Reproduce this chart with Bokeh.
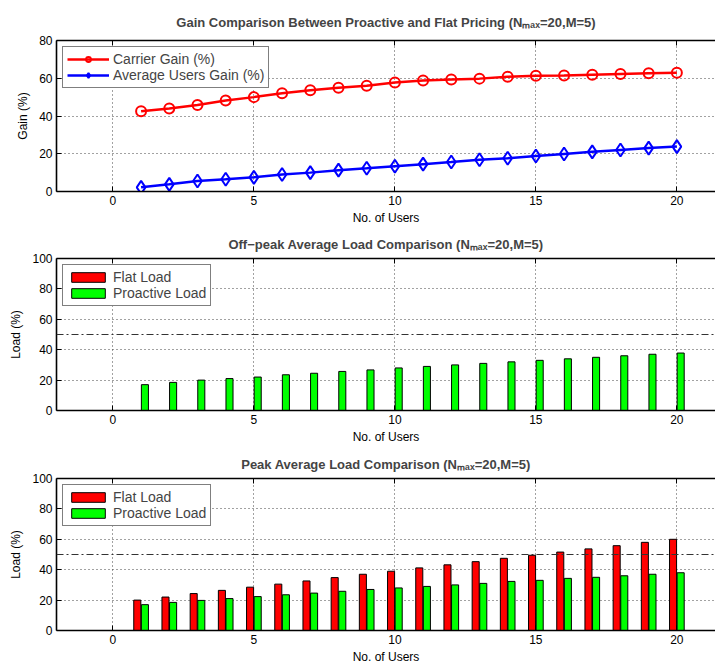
from bokeh.plotting import figure
from bokeh.models import Range1d, LinearAxis, Span, FixedTicker
from bokeh.layouts import column
from bokeh.transform import dodge
from bokeh.embed import file_html
from bokeh.resources import INLINE

# ---- data ----
users = [1, 2, 3, 4, 5, 6, 7, 8, 9, 10, 11, 12, 13, 14, 15, 16, 17, 18, 19, 20]
carrier_gain = [42.5, 44.0, 45.8, 48.2, 50.0, 52.0, 53.7, 55.0, 56.0, 57.7,
                58.8, 59.4, 59.8, 60.8, 61.3, 61.5, 61.9, 62.3, 62.6, 62.9]
users_gain = [2.2, 3.8, 5.6, 6.5, 7.5, 9.0, 10.0, 11.3, 12.3, 13.4,
              14.5, 15.6, 16.8, 17.6, 18.8, 19.9, 21.0, 22.0, 23.0, 23.8]
offpeak_flat = [0, 0, 0, 0, 0, 0, 0, 0, 0, 0, 0, 0, 0, 0, 0, 0, 0, 0, 0, 0]
offpeak_proactive = [17.0, 18.5, 20.0, 21.0, 22.0, 23.5, 24.5, 25.7, 26.7, 28.0,
                     29.0, 30.0, 31.0, 32.0, 33.0, 34.0, 35.0, 36.0, 37.0, 37.8]
peak_flat = [20.0, 22.0, 24.3, 26.4, 28.5, 30.5, 32.6, 34.8, 37.0, 39.0,
             41.2, 43.2, 45.3, 47.5, 49.5, 51.6, 53.7, 55.8, 58.0, 60.0]
peak_proactive = [17.0, 18.5, 19.8, 21.0, 22.3, 23.5, 24.6, 25.8, 27.0, 28.0,
                  29.0, 30.0, 31.0, 32.3, 33.0, 34.3, 35.0, 36.0, 37.0, 38.0]
x_ticks = [0, 5, 10, 15, 20]
threshold = 50

FONT = "Liberation Sans"


def make_fig(height, top, bottom, ymax, ystep, title, ylabel, title_standoff):
    p = figure(width=715, height=height, output_backend="svg", toolbar_location=None,
               x_range=Range1d(-2, 21.37), y_range=Range1d(0, ymax),
               min_border_left=56, min_border_right=0,
               min_border_top=top, min_border_bottom=bottom, title=title)
    p.outline_line_color = None
    p.background_fill_color = "white"
    p.border_fill_color = "white"
    t = p.title
    t.text_font = FONT
    t.text_font_style = "bold"
    t.text_font_size = "13px"
    t.align = "center"
    t.offset = 8
    t.standoff = title_standoff
    yt = FixedTicker(ticks=list(range(0, ymax + 1, ystep)))
    xt = FixedTicker(ticks=x_ticks)
    p.xaxis.ticker = xt
    p.yaxis.ticker = yt
    for ax in (p.xaxis[0], p.yaxis[0]):
        ax.major_tick_in = 5
        ax.major_tick_out = 0
        ax.minor_tick_line_color = None
        ax.axis_line_width = 1.6
        ax.axis_line_color = "black"
        ax.major_tick_line_color = "black"
        ax.major_label_text_font = FONT
        ax.major_label_text_font_size = "12px"
        ax.major_label_text_color = "black"
        ax.axis_label_text_font = FONT
        ax.axis_label_text_font_size = "12px"
        ax.axis_label_text_font_style = "normal"
        ax.axis_label_text_color = "black"
        ax.major_label_standoff = 4
        ax.axis_label_standoff = 3
    p.xaxis.axis_label = "No. of Users"
    p.yaxis.axis_label = ylabel
    p.yaxis.axis_label_standoff = 6
    # top border with inward ticks only (no labels)
    top_ax = LinearAxis(ticker=FixedTicker(ticks=[], minor_ticks=x_ticks),
                        major_tick_line_color=None,
                        minor_tick_in=5, minor_tick_out=0,
                        minor_tick_line_color="black",
                        axis_line_width=1.6, axis_line_color="black")
    p.add_layout(top_ax, "above")
    for g in (p.xgrid[0], p.ygrid[0]):
        g.grid_line_dash = "1 3"
        g.grid_line_color = "#444444"
        g.grid_line_width = 1
    p.xgrid.ticker = xt
    p.ygrid.ticker = yt
    return p


def style_legend(p, glyph_w):
    lg = p.legend[0]
    lg.location = "top_left"
    lg.margin = 6
    lg.padding = 4
    lg.spacing = 0
    lg.label_height = 15
    lg.glyph_height = 12
    lg.glyph_width = glyph_w
    lg.label_standoff = 4
    lg.label_text_font = FONT
    lg.label_text_font_size = "14px"
    lg.border_line_color = "black"
    lg.border_line_width = 1
    lg.background_fill_color = "white"
    lg.background_fill_alpha = 1.0


# ---- top: gains ----
p1 = make_fig(227, 40, 36, 80, 20,
              "Gain Comparison Between Proactive and Flat Pricing (N\u2098\u2090\u2093=20,M=5)",
              "Gain (%)", 22)
p1.line(users, carrier_gain, line_color="red", line_width=2.5, legend_label="Carrier Gain (%)")
p1.scatter(users, carrier_gain, marker="circle", size=10, line_color="red", line_width=2,
           fill_color=None, legend_label="Carrier Gain (%)")
p1.line(users, users_gain, line_color="blue", line_width=2.5, legend_label="Average Users Gain (%)")
p1.scatter(users, users_gain, marker="diamond", size=13, line_color="blue", line_width=2,
           fill_color=None, legend_label="Average Users Gain (%)")
style_legend(p1, 42)


def bar_fig(height, top, bottom, title, flat, proactive):
    p = make_fig(height, top, bottom, 100, 20, title, "Load (%)", 14)
    src = dict(x=users, flat=flat, pro=proactive)
    p.vbar(x=dodge("x", -0.135, range=p.x_range), top="flat", width=0.25, bottom=0,
           source=src, fill_color="#FF0000", line_color="black", line_width=1,
           legend_label="Flat Load")
    p.vbar(x=dodge("x", 0.135, range=p.x_range), top="pro", width=0.25, bottom=0,
           source=src, fill_color="#00FF00", line_color="black", line_width=1,
           legend_label="Proactive Load")
    p.add_layout(Span(location=threshold, dimension="width", line_color="#333333",
                      line_width=1.2, line_dash="7 3 2 3"))
    style_legend(p, 42)
    return p


p2 = bar_fig(219, 31, 36,
             "Off\u2212peak Average Load Comparison (N\u2098\u2090\u2093=20,M=5)",
             offpeak_flat, offpeak_proactive)
p3 = bar_fig(220, 32, 36,
             "Peak Average Load Comparison (N\u2098\u2090\u2093=20,M=5)",
             peak_flat, peak_proactive)

layout = column(p1, p2, p3, spacing=0)
open("out.html", "w").write(file_html(layout, INLINE))
